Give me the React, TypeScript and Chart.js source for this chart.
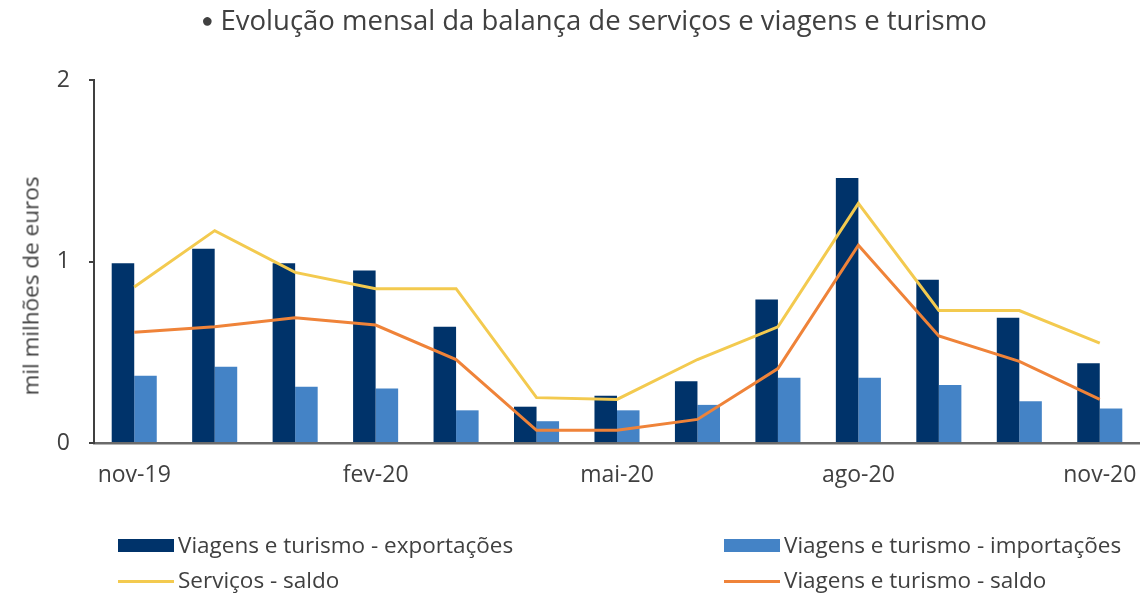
import React, { useEffect, useRef } from "react";
import { Chart, registerables } from "chart.js";

Chart.register(...registerables);

const categories = [
  "nov-19", "dez-19", "jan-20", "fev-20", "mar-20", "abr-20", "mai-20",
  "jun-20", "jul-20", "ago-20", "set-20", "out-20", "nov-20",
];
const shownLabels = ["nov-19", "fev-20", "mai-20", "ago-20", "nov-20"];

const exportacoes = [0.99, 1.07, 0.99, 0.95, 0.64, 0.2, 0.26, 0.34, 0.79, 1.46, 0.9, 0.69, 0.44];
const importacoes = [0.37, 0.42, 0.31, 0.3, 0.18, 0.12, 0.18, 0.21, 0.36, 0.36, 0.32, 0.23, 0.19];
const servicosSaldo = [0.86, 1.17, 0.94, 0.85, 0.85, 0.25, 0.24, 0.46, 0.64, 1.32, 0.73, 0.73, 0.55];
const viagensSaldo = [0.61, 0.64, 0.69, 0.65, 0.46, 0.07, 0.07, 0.13, 0.41, 1.09, 0.59, 0.45, 0.24];

const yTicks = [0, 1, 2];

const COLORS = {
  exp: "#00336A",
  imp: "#4483C6",
  serv: "#F3CA4F",
  viag: "#EF8339",
  text: "#404040",
};

const FONT = '"Open Sans", "Noto Sans", sans-serif';

export default function App() {
  const ref = useRef<HTMLCanvasElement | null>(null);

  useEffect(() => {
    if (!ref.current) return;
    const chart = new Chart(ref.current, {
      type: "bar",
      data: {
        labels: categories,
        datasets: [
          {
            type: "line",
            label: "Serviços - saldo",
            data: servicosSaldo,
            borderColor: COLORS.serv,
            backgroundColor: COLORS.serv,
            borderWidth: 3,
            pointRadius: 0,
            tension: 0,
            order: 0,
          },
          {
            type: "line",
            label: "Viagens e turismo - saldo",
            data: viagensSaldo,
            borderColor: COLORS.viag,
            backgroundColor: COLORS.viag,
            borderWidth: 3,
            pointRadius: 0,
            tension: 0,
            order: 0,
          },
          {
            type: "bar",
            label: "Viagens e turismo - exportações",
            data: exportacoes,
            backgroundColor: COLORS.exp,
            barPercentage: 1,
            categoryPercentage: 0.56,
            order: 1,
          },
          {
            type: "bar",
            label: "Viagens e turismo - importações",
            data: importacoes,
            backgroundColor: COLORS.imp,
            barPercentage: 1,
            categoryPercentage: 0.56,
            order: 1,
          },
        ],
      },
      options: {
        responsive: false,
        animation: false,
        layout: { padding: { top: 80, left: 0, right: 0, bottom: 0 } },
        plugins: {
          legend: { display: false },
          title: { display: false },
          tooltip: { enabled: false },
        },
        scales: {
          x: {
            offset: true,
            grid: { display: false, drawTicks: false },
            border: { display: true, color: "#6A6A6A", width: 2.5 },
            ticks: {
              autoSkip: false,
              maxRotation: 0,
              minRotation: 0,
              padding: 19,
              color: COLORS.text,
              font: { family: FONT, size: 23 },
              callback: (_v: any, i: number) =>
                shownLabels.includes(categories[i]) ? categories[i] : "",
            },
            afterFit: (s: any) => {
              s.height = 150;
              s.paddingLeft = 0;
              s.paddingRight = 0;
            },
          },
          y: {
            min: 0,
            max: 2,
            afterBuildTicks: (s: any) => {
              s.ticks = yTicks.map((v) => ({ value: v }));
            },
            grid: {
              display: true,
              drawOnChartArea: false,
              drawTicks: true,
              tickLength: 5,
              color: COLORS.text,
              lineWidth: 2,
            },
            border: { display: true, color: COLORS.text, width: 2 },
            ticks: {
              padding: 19,
              color: COLORS.text,
              font: { family: FONT, size: 23 },
            },
            afterFit: (s: any) => {
              s.width = 94;
              s.paddingTop = 0;
              s.paddingBottom = 0;
            },
          },
        },
      },
    });
    return () => chart.destroy();
  }, []);

  const legendText: React.CSSProperties = {
    position: "absolute",
    fontSize: 22.5,
    color: COLORS.text,
    whiteSpace: "nowrap",
    lineHeight: "30px",
  };

  return (
    <div
      style={{
        position: "absolute",
        left: 0,
        top: 0,
        width: 1140,
        height: 593,
        overflow: "hidden",
        background: "#fff",
        fontFamily: FONT,
      }}
    >
      <canvas
        ref={ref}
        width={1140}
        height={593}
        style={{ position: "absolute", left: 0, top: 0, width: 1140, height: 593 }}
      />
      <div
        style={{
          position: "absolute",
          left: 0,
          width: 1188,
          top: 1,
          textAlign: "center",
          fontSize: 27.5,
          color: COLORS.text,
          whiteSpace: "nowrap",
        }}
      >
        <span style={{ fontSize: 20, position: "relative", top: -3 }}>●</span> Evolução mensal da balança de serviços e viagens e turismo
      </div>
      <div
        style={{
          position: "absolute",
          left: 30,
          top: 286,
          transform: "translate(-50%, -50%) rotate(-90deg)",
          fontSize: 22.5,
          color: COLORS.text,
          whiteSpace: "nowrap",
        }}
      >
        mil milhões de euros
      </div>

      <div style={{ position: "absolute", left: 118, top: 539, width: 56, height: 13, background: COLORS.exp }} />
      <div style={{ ...legendText, left: 178, top: 530 }}>Viagens e turismo - exportações</div>

      <div style={{ position: "absolute", left: 724, top: 539, width: 56, height: 13, background: COLORS.imp }} />
      <div style={{ ...legendText, left: 784, top: 530 }}>Viagens e turismo - importações</div>

      <div style={{ position: "absolute", left: 118, top: 580, width: 56, height: 3, background: COLORS.serv }} />
      <div style={{ ...legendText, left: 178, top: 565 }}>Serviços - saldo</div>

      <div style={{ position: "absolute", left: 724, top: 580, width: 56, height: 3, background: COLORS.viag }} />
      <div style={{ ...legendText, left: 784, top: 565 }}>Viagens e turismo - saldo</div>
    </div>
  );
}
